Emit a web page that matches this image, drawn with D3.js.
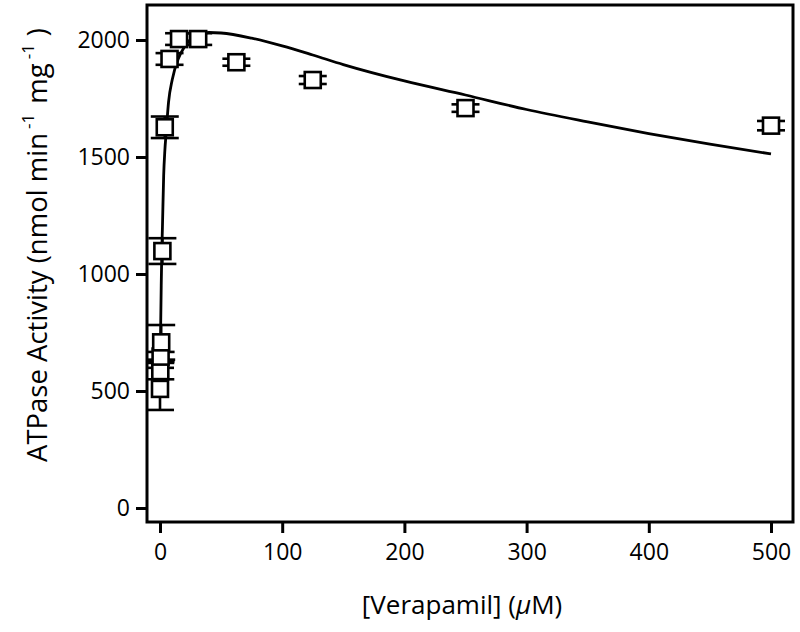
<!DOCTYPE html>
<html>
<head>
<meta charset="utf-8">
<script src="https://cdn.jsdelivr.net/npm/d3@7"></script>
<style>
  html, body { margin: 0; padding: 0; background: #fff; }
  svg { display: block; }
  text { font-family: "Open Sans", sans-serif; fill: #000; }
</style>
</head>
<body>
<svg id="chart" width="800" height="632"></svg>
<script>
// Measured points: verapamil concentration (µM), ATPase activity, error (SD)
const concentrations = [0, 0.24, 0.49, 0.98, 1.95, 3.9, 7.8, 15.6, 31.25, 62.5, 125, 250, 500];
const activity       = [509, 585, 647, 708, 1098, 1627, 1919, 2004, 2004, 1905, 1829, 1709, 1634];
const errors         = [90, 35, 20, 74, 55, 46, 25, 25, 25, 15, 17, 16, 20];

// Fitted curve
const fitX = [0, 0.5, 1, 1.5, 2, 3, 4, 5, 7, 10, 15, 20, 25, 30, 40, 50, 75, 100, 125, 150, 200, 250, 300, 350, 400, 450, 500];
const fitY = [515, 760, 950, 1100, 1200, 1420, 1530, 1600, 1735, 1830, 1920, 1970, 2003, 2020, 2032, 2030, 2008, 1975, 1936, 1895, 1825, 1765, 1703, 1650, 1600, 1555, 1513];

const xTicks = [0, 100, 200, 300, 400, 500];
const yTicks = [0, 500, 1000, 1500, 2000];

const svg = d3.select("#chart");
const frame = {left: 147, top: 5, right: 793, bottom: 522};

const x = d3.scaleLinear().domain([0, 500]).range([160, 771]);
const y = d3.scaleLinear().domain([0, 2000]).range([508, 40]);

// Fitted curve
const fitData = fitX.map((v, i) => [v, fitY[i]]);
svg.append("path")
  .datum(fitData)
  .attr("fill", "none")
  .attr("stroke", "#000")
  .attr("stroke-width", 2.8)
  .attr("d", d3.line().x(d => x(d[0])).y(d => y(d[1])).curve(d3.curveMonotoneX));

// Points
const pts = concentrations.map((c, i) => ({c, v: activity[i], e: errors[i]}));
const capW = 14;
const eb = svg.append("g").attr("stroke", "#000").attr("stroke-width", 2.6);
pts.forEach(d => {
  eb.append("line").attr("x1", x(d.c)).attr("x2", x(d.c)).attr("y1", y(d.v + d.e)).attr("y2", y(d.v - d.e));
  eb.append("line").attr("x1", x(d.c) - capW).attr("x2", x(d.c) + capW).attr("y1", y(d.v + d.e)).attr("y2", y(d.v + d.e));
  eb.append("line").attr("x1", x(d.c) - capW).attr("x2", x(d.c) + capW).attr("y1", y(d.v - d.e)).attr("y2", y(d.v - d.e));
});
const sq = 16;
svg.append("g").selectAll("rect").data(pts).join("rect")
  .attr("x", d => x(d.c) - sq / 2)
  .attr("y", d => y(d.v) - sq / 2)
  .attr("width", sq).attr("height", sq)
  .attr("fill", "#fff").attr("stroke", "#000").attr("stroke-width", 2.6);

// Frame
svg.append("rect")
  .attr("x", frame.left).attr("y", frame.top)
  .attr("width", frame.right - frame.left).attr("height", frame.bottom - frame.top)
  .attr("fill", "none").attr("stroke", "#000").attr("stroke-width", 3);

// Axes
const xAxis = svg.append("g").attr("transform", `translate(0,${frame.bottom})`)
  .call(d3.axisBottom(x).tickValues(xTicks).tickFormat(d3.format("d")).tickSize(11).tickSizeOuter(0).tickPadding(11));
xAxis.select(".domain").remove();
xAxis.selectAll("line").attr("stroke-width", 3);
xAxis.selectAll("text").attr("font-size", 23).attr("font-family", "Open Sans");

const yAxis = svg.append("g").attr("transform", `translate(${frame.left},0)`)
  .call(d3.axisLeft(y).tickValues(yTicks).tickFormat(d3.format("d")).tickSize(11).tickSizeOuter(0).tickPadding(6));
yAxis.select(".domain").remove();
yAxis.selectAll("line").attr("stroke-width", 3);
yAxis.selectAll("text").attr("font-size", 23).attr("font-family", "Open Sans");

// Axis titles
const xt = svg.append("text").attr("x", 462).attr("y", 614).attr("text-anchor", "middle").attr("font-size", 26);
xt.append("tspan").text("[Verapamil] (");
xt.append("tspan").attr("font-style", "italic").text("μ");
xt.append("tspan").text("M)");

const yt = svg.append("text").attr("transform", "translate(47,245) rotate(-90)").attr("text-anchor", "middle").attr("font-size", 27.5);
yt.append("tspan").text("ATPase Activity (nmol min");
yt.append("tspan").attr("dy", -13).attr("dx", 4).attr("font-size", 17).text("-1");
yt.append("tspan").attr("dy", 13).attr("dx", 10).text("mg");
yt.append("tspan").attr("dy", -13).attr("dx", 4).attr("font-size", 17).text("-1");
yt.append("tspan").attr("dy", 13).attr("dx", 8).text(")");
</script>
</body>
</html>
